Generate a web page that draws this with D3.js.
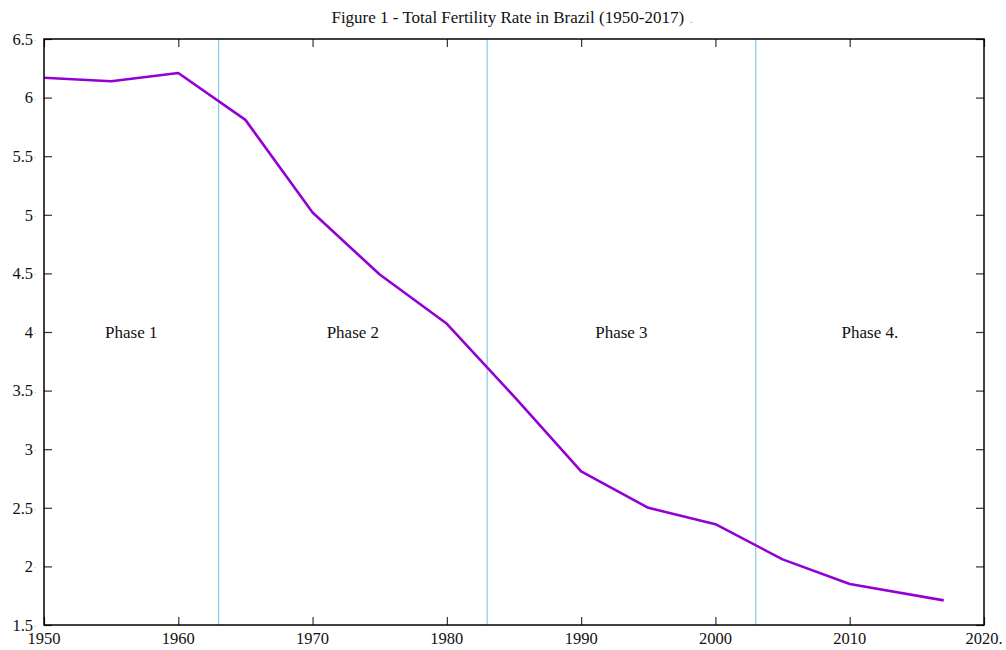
<!DOCTYPE html>
<html>
<head>
<meta charset="utf-8">
<script src="https://cdn.jsdelivr.net/npm/d3@7"></script>
<style>
  body { margin: 0; background: #fff; }
  svg { font-family: "Liberation Serif", "DejaVu Serif", serif; }
</style>
</head>
<body>
<div id="chart"></div>
<script>
// Total fertility rate, Brazil
const years = [1950, 1955, 1960, 1965, 1970, 1975, 1980, 1985, 1990, 1995, 2000, 2005, 2010, 2017];
const tfr = [6.17, 6.14, 6.21, 5.81, 5.02, 4.49, 4.07, 3.45, 2.81, 2.50, 2.36, 2.06, 1.85, 1.71];

// phase boundaries and labels
const phaseBreaks = [1963, 1983, 2003];
const phaseNames = ['Phase 1', 'Phase 2', 'Phase 3', 'Phase 4.'];
const phaseLabelY = 4;

const xTicks = [1950, 1960, 1970, 1980, 1990, 2000, 2010, 2020];
const yTicks = [1.5, 2, 2.5, 3, 3.5, 4, 4.5, 5, 5.5, 6, 6.5];

const W = 1006, H = 650;
const margin = { top: 39, right: 22, bottom: 25, left: 44 };
const width = W - margin.left - margin.right,
    height = H - margin.top - margin.bottom;

const x = d3.scaleLinear().domain([1950, 2020]).range([0, width]);
const y = d3.scaleLinear().domain([1.5, 6.5]).range([height, 0]);

const svg = d3.select('#chart')
    .append('svg')
    .attr('width', W)
    .attr('height', H);

// title
svg.append('text')
    .attr('x', 512)
    .attr('y', 23)
    .attr('text-anchor', 'middle')
    .attr('font-size', '17px')
    .attr('fill', '#111')
    .text('Figure 1 - Total Fertility Rate in Brazil (1950-2017)')
    .append('tspan')
    .attr('dx', 6)
    .attr('fill', '#888')
    .attr('font-size', '10px')
    .text('.');

const g = svg.append('g')
    .attr('transform', 'translate(' + margin.left + ',' + margin.top + ')');

// inward ticks on all four sides
const tickStyle = (sel) => sel
    .call((a) => a.select('.domain').remove())
    .call((a) => a.selectAll('.tick line').attr('stroke', '#333').attr('stroke-width', 1.2));

g.append('g')
    .attr('transform', 'translate(0,' + height + ')')
    .call(d3.axisBottom(x).tickValues(xTicks).tickSize(-8).tickFormat(''))
    .call(tickStyle);

g.append('g')
    .call(d3.axisTop(x).tickValues(xTicks).tickSize(-8).tickFormat(''))
    .call(tickStyle);

g.append('g')
    .call(d3.axisLeft(y).tickValues(yTicks).tickSize(-8).tickFormat(''))
    .call(tickStyle);

g.append('g')
    .attr('transform', 'translate(' + width + ',0)')
    .call(d3.axisRight(y).tickValues(yTicks).tickSize(-8).tickFormat(''))
    .call(tickStyle);

// tick labels
g.append('g')
    .selectAll('text')
    .data(yTicks)
    .join('text')
    .attr('x', -11)
    .attr('y', (d) => y(d))
    .attr('dy', '0.35em')
    .attr('text-anchor', 'end')
    .attr('font-size', '16.5px')
    .attr('fill', '#111')
    .text((d) => d);

g.append('g')
    .selectAll('text')
    .data(yTicks)
    .join('text')
    .attr('x', -10)
    .attr('y', (d) => y(d) + 2)
    .attr('font-size', '8px')
    .attr('fill', '#888')
    .text('.');

g.append('g')
    .selectAll('text')
    .data(xTicks)
    .join('text')
    .attr('x', (d) => x(d))
    .attr('y', height + 19)
    .attr('text-anchor', 'middle')
    .attr('font-size', '16.5px')
    .attr('fill', '#111')
    .text((d) => d === 2020 ? d + '.' : d);

// phase separators
g.append('g')
    .selectAll('line')
    .data(phaseBreaks)
    .join('line')
    .attr('x1', (d) => x(d))
    .attr('x2', (d) => x(d))
    .attr('y1', 0)
    .attr('y2', height)
    .attr('stroke', '#87c7ea')
    .attr('stroke-width', 1.2);

const bounds = [1950, ...phaseBreaks, 2020];
g.append('g')
    .selectAll('text')
    .data(phaseNames)
    .join('text')
    .attr('x', (d, i) => x((bounds[i] + bounds[i + 1]) / 2))
    .attr('y', y(phaseLabelY))
    .attr('dy', '0.35em')
    .attr('text-anchor', 'middle')
    .attr('font-size', '17px')
    .attr('fill', '#111')
    .text((d) => d);

// fertility line
const line = d3.line()
    .x((d, i) => x(years[i]))
    .y((d) => y(d));

g.append('path')
    .attr('d', line(tfr))
    .attr('fill', 'none')
    .attr('stroke', '#9400d3')
    .attr('stroke-width', 2.6)
    .attr('stroke-linejoin', 'round');

// frame
g.append('rect')
    .attr('width', width)
    .attr('height', height)
    .attr('fill', 'none')
    .attr('stroke', '#000')
    .attr('stroke-width', 1.5);
</script>
</body>
</html>
